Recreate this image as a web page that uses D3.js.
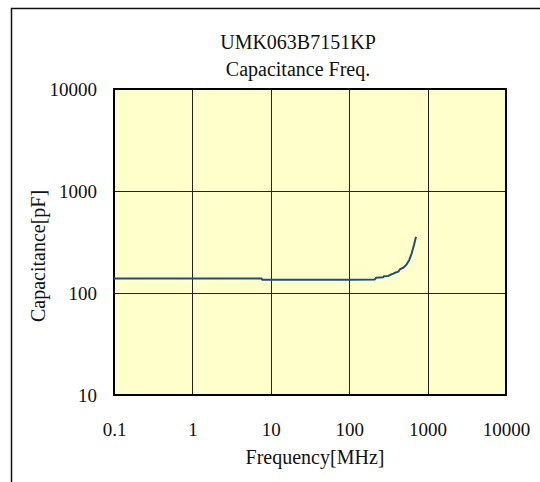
<!DOCTYPE html>
<html>
<head>
<meta charset="utf-8">
<script src="https://cdn.jsdelivr.net/npm/d3@7"></script>
<style>
html,body{margin:0;padding:0;background:#fff;}
svg text{font-family:"Liberation Serif","DejaVu Serif",serif;fill:#111;}
</style>
</head>
<body>
<svg id="chart" width="540" height="482"></svg>
<script>
const titleLines = ["UMK063B7151KP", "Capacitance Freq."];
const xLabel = "Frequency[MHz]";
const yLabel = "Capacitance[pF]";
const xTicks = [0.1, 1, 10, 100, 1000, 10000];
const xTickLabels = ["0.1", "1", "10", "100", "1000", "10000"];
const yTicks = [10, 100, 1000, 10000];
const yTickLabels = ["10", "100", "1000", "10000"];
const freq = [0.1, 1, 7.6, 7.8, 10, 100, 213, 220, 272, 278, 315, 331, 365, 384, 423, 445, 490, 541, 584, 627, 671, 711];
const cap  = [139, 139, 139, 135, 135, 135, 136, 141, 143, 146, 147, 150, 155, 158, 162, 171, 177, 191, 211, 245, 296, 356];

const svg = d3.select("#chart");
const L = 114, R = 506, T = 89, B = 395;
const x = d3.scaleLog().domain([0.1, 10000]).range([L, R]);
const y = d3.scaleLog().domain([10, 10000]).range([B, T]);

// outer frame
svg.append("rect").attr("x", 11.5).attr("y", 8.5).attr("width", 540).attr("height", 490)
  .attr("fill", "none").attr("stroke", "#111").attr("stroke-width", 1.5);

// plot background
svg.append("rect").attr("x", L).attr("y", T).attr("width", R - L).attr("height", B - T)
  .attr("fill", "#FFFFCC");

// grid
const g = svg.append("g");
g.selectAll("line.vx").data(xTicks.slice(1, -1)).enter().append("line")
  .attr("x1", d => Math.round(x(d)) + 0.5).attr("x2", d => Math.round(x(d)) + 0.5)
  .attr("y1", T).attr("y2", B).attr("stroke", "#222").attr("stroke-width", 1);
g.selectAll("line.hy").data(yTicks.slice(1, -1)).enter().append("line")
  .attr("y1", d => Math.round(y(d)) + 0.5).attr("y2", d => Math.round(y(d)) + 0.5)
  .attr("x1", L).attr("x2", R).attr("stroke", "#222").attr("stroke-width", 1);

// axes labels via d3 axes (no lines)
const xAxis = d3.axisBottom(x).tickValues(xTicks).tickSize(0).tickPadding(0)
  .tickFormat((d, i) => xTickLabels[i]);
const xa = svg.append("g").attr("transform", `translate(0,${B + 27})`).call(xAxis);
xa.select(".domain").remove();
xa.selectAll("text").attr("font-size", 19).attr("font-family", "Liberation Serif").attr("fill", "#111");

const yAxis = d3.axisLeft(y).tickValues(yTicks).tickSize(0).tickPadding(0)
  .tickFormat((d, i) => yTickLabels[i]);
const ya = svg.append("g").attr("transform", `translate(${97},0)`).call(yAxis);
ya.select(".domain").remove();
ya.selectAll("text").attr("font-size", 19).attr("font-family", "Liberation Serif").attr("fill", "#111");

// plot border
svg.append("rect").attr("x", L).attr("y", T).attr("width", R - L).attr("height", B - T)
  .attr("fill", "none").attr("stroke", "#000").attr("stroke-width", 2);

// curve
const line = d3.line().x((d, i) => x(freq[i])).y((d, i) => y(cap[i]));
svg.append("path").datum(freq).attr("d", line)
  .attr("fill", "none").attr("stroke", "#1F4E7A").attr("stroke-width", 2).attr("stroke-linejoin", "round");

// titles
svg.selectAll("text.title").data(titleLines).enter().append("text")
  .attr("x", 298).attr("y", (d, i) => 49 + i * 27)
  .attr("text-anchor", "middle").attr("font-size", 20).text(d => d);

svg.append("text").attr("x", 315).attr("y", 464).attr("text-anchor", "middle")
  .attr("font-size", 20).text(xLabel);
svg.append("text").attr("transform", "translate(45,256) rotate(-90)")
  .attr("text-anchor", "middle").attr("font-size", 20).text(yLabel);
</script>
</body>
</html>
